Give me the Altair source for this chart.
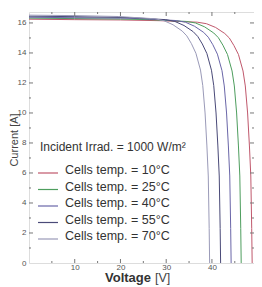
import altair as alt
import pandas as pd

# ---------------- data ----------------
labels = ["Cells temp. = 10°C", "Cells temp. = 25°C", "Cells temp. = 40°C",
          "Cells temp. = 55°C", "Cells temp. = 70°C"]
colors = ["#c0586c", "#4e9e5e", "#6a66a8", "#4a4a78", "#9a9ab8"]

v10 = [0, 10, 20, 28.8, 36.8, 38.8, 40.8, 42.8, 43.8, 44.8, 45.8, 46.8, 47.3, 47.8, 48.2, 48.5, 48.7, 48.8]
i10 = [16.25, 16.22, 16.2, 16.15, 16.05, 15.95, 15.7, 15.3, 15.0, 14.5, 13.9, 12.8, 11.8, 10.0, 7.8, 5.8, 2.3, 0]

v25 = [0, 10, 20, 26.4, 34.4, 36.4, 38.4, 40.4, 41.4, 42.4, 43.4, 44.4, 44.9, 45.4, 45.8, 46.1, 46.3, 46.4]
i25 = [16.32, 16.29, 16.26, 16.22, 16.1, 16.0, 15.74, 15.33, 15.02, 14.52, 13.9, 12.8, 11.8, 10.0, 7.8, 5.8, 2.3, 0]

v40 = [0, 10, 20, 24.2, 32.2, 34.2, 36.2, 38.2, 39.2, 40.2, 41.2, 42.2, 42.7, 43.2, 43.6, 43.9, 44.1, 44.2]
i40 = [16.38, 16.35, 16.32, 16.29, 16.16, 16.05, 15.78, 15.37, 15.05, 14.55, 13.92, 12.82, 11.8, 10.0, 7.8, 5.8, 2.3, 0]

v55 = [0, 10, 21.9, 29.9, 31.9, 33.9, 35.9, 36.9, 37.9, 38.9, 39.9, 40.4, 40.9, 41.3, 41.6, 41.8, 41.9]
i55 = [16.45, 16.42, 16.36, 16.22, 16.1, 15.83, 15.42, 15.1, 14.6, 13.96, 12.85, 11.82, 10.0, 7.8, 5.8, 2.3, 0]

v70 = [0, 10, 19.5, 27.5, 29.5, 31.5, 33.5, 34.5, 35.5, 36.5, 37.5, 38.0, 38.5, 38.9, 39.2, 39.4, 39.5]
i70 = [16.52, 16.49, 16.43, 16.28, 16.15, 15.88, 15.46, 15.14, 14.63, 13.98, 12.86, 11.82, 10.0, 7.8, 5.8, 2.3, 0]

x_major = [10, 20, 30, 40]
x_minor = [5, 15, 25, 35, 45]
y_major = [0, 2, 4, 6, 8, 10, 12, 14, 16]
y_minor = [1, 3, 5, 7, 9, 11, 13, 15]

title_text = "Incident Irrad. = 1000 W/m²"

# ---------------- build tables ----------------
rows = []
for lab, vs, cs in zip(labels, [v10, v25, v40, v55, v70], [i10, i25, i40, i55, i70]):
    for v, c in zip(vs, cs):
        rows.append({"V": v, "I": c, "T": lab})
curves = pd.DataFrame(rows)

W, H = 225, 251
FONT = "Liberation Sans"
xs = alt.Scale(domain=[0, 49.2], nice=False, zero=False)
ys = alt.Scale(domain=[0, 16.73], nice=False, zero=False)
xaxis = alt.Axis(values=x_major, title=None, ticks=False, domain=False, labelFontSize=8,
                 labelColor="#555", labelPadding=0, labelFont=FONT, grid=False)
yaxis = alt.Axis(values=y_major, title=None, ticks=False, domain=False, labelFontSize=8,
                 labelColor="#555", labelPadding=3, labelFont=FONT, grid=False)
X = alt.X("V:Q", scale=xs, axis=xaxis)
Y = alt.Y("I:Q", scale=ys, axis=yaxis)

lines = alt.Chart(curves).mark_line(strokeWidth=1, clip=True).encode(
    x=X, y=Y,
    color=alt.Color("T:N", scale=alt.Scale(domain=labels, range=colors), legend=None),
)

def xticks(vals, length):
    df = pd.DataFrame({"V": vals})
    bot = alt.Chart(df).mark_rule(color="#777", strokeWidth=1).encode(
        x=X, y=alt.value(H), y2=alt.value(H - length))
    top = alt.Chart(df).mark_rule(color="#777", strokeWidth=1).encode(
        x=X, y=alt.value(0), y2=alt.value(length))
    return [bot, top]

def yticks(vals, length):
    df = pd.DataFrame({"I": vals})
    lft = alt.Chart(df).mark_rule(color="#777", strokeWidth=1).encode(
        y=Y, x=alt.value(0), x2=alt.value(length))
    rgt = alt.Chart(df).mark_rule(color="#777", strokeWidth=1).encode(
        y=Y, x=alt.value(W), x2=alt.value(W - length))
    return [lft, rgt]

ticks = xticks(x_major, 4) + xticks(x_minor, 2) + yticks(y_major[1:], 4) + yticks(y_minor, 2)

# legend (custom, inside plot)
leg = pd.DataFrame({"T": labels, "k": list(range(len(labels)))})
leg_lines = alt.Chart(leg).mark_rule(strokeWidth=1.2).encode(
    x=alt.value(9), x2=alt.value(29),
    y=alt.Y("py:Q", scale=None),
    color=alt.Color("T:N", scale=alt.Scale(domain=labels, range=colors), legend=None),
).transform_calculate(py="161 + datum.k * 16.5")
leg_text = alt.Chart(leg).mark_text(align="left", baseline="middle", fontSize=12.5,
                                     font=FONT, color="#333").encode(
    x=alt.value(36), y=alt.Y("py:Q", scale=None), text="T:N",
).transform_calculate(py="158 + datum.k * 16.5")

one = pd.DataFrame({"t": [title_text]})
irr = alt.Chart(one).mark_text(align="left", baseline="middle", fontSize=12, font=FONT,
                               color="#333").encode(x=alt.value(11), y=alt.value(135), text="t:N")

volt = alt.Chart(pd.DataFrame({"t": ["Voltage"]})).mark_text(
    align="right", baseline="middle", fontSize=13, fontWeight="bold", font=FONT, color="#333"
).encode(x=alt.value(122), y=alt.value(266), text="t:N")
volt_u = alt.Chart(pd.DataFrame({"t": ["[V]"]})).mark_text(
    align="left", baseline="middle", fontSize=12.5, font=FONT, color="#444"
).encode(x=alt.value(126), y=alt.value(266), text="t:N")
curr = alt.Chart(pd.DataFrame({"t": ["Current [A]"]})).mark_text(
    align="center", baseline="middle", fontSize=11, font=FONT, color="#444", angle=270
).encode(x=alt.value(-14), y=alt.value(128), text="t:N")

chart = alt.layer(lines, *ticks, leg_lines, leg_text, irr, volt, volt_u, curr).properties(
    width=W, height=H,
    autosize=alt.AutoSizeParams(type="none"),
    padding={"left": 21, "top": 4, "right": 0, "bottom": 23},
).configure_view(stroke="#888", strokeWidth=1.2).configure(background="white")

chart.save("out.html", embed_options={"renderer": "svg", "actions": False})
